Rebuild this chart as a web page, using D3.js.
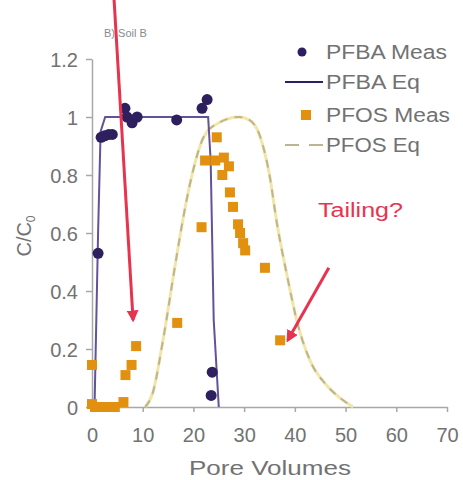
<!DOCTYPE html>
<html>
<head>
<meta charset="utf-8">
<script src="https://cdn.jsdelivr.net/npm/d3@7"></script>
<style>
  body { margin: 0; background: #fff; }
  svg { display: block; font-family: "Liberation Sans", Arial, sans-serif; }
</style>
</head>
<body>
<svg id="chart" width="463" height="480"></svg>
<script>
// PFBA measured (pore volumes, C/C0)
var pfbaMeas = [
  [1.2, 0.53], [1.8, 0.93], [2.5, 0.935], [3.3, 0.94], [4.0, 0.94],
  [6.5, 1.03], [6.9, 1.0], [7.9, 0.98], [8.9, 1.0], [16.7, 0.99],
  [21.7, 1.03], [22.7, 1.06], [23.7, 0.12], [23.5, 0.04]
];
// PFBA equilibrium model
var pfbaEq = [
  [0.5, 0], [1.2, 0.6], [1.7, 0.95], [2.6, 1], [22.9, 1],
  [23.4, 0.85], [24.0, 0.3], [25.0, 0]
];
// PFOS measured
var pfosMeas = [
  [0, 0.01], [0.6, 0], [1.5, 0], [2.5, 0], [3.5, 0], [4.5, 0], [6.2, 0.017],
  [0, 0.145], [6.6, 0.11], [7.8, 0.145], [8.7, 0.21], [16.8, 0.29],
  [21.6, 0.62], [22.3, 0.85], [24.3, 0.85], [24.6, 0.93], [26.0, 0.86],
  [25.7, 0.8], [27.0, 0.83], [27.2, 0.74], [27.8, 0.69], [28.8, 0.63],
  [29.2, 0.6], [29.8, 0.565], [30.2, 0.54], [34.1, 0.48], [37.1, 0.23]
];
// PFOS equilibrium model
var pfosEq = [
  [10.5, 0], [12, 0.05], [14, 0.23], [16.5, 0.5], [18.5, 0.7], [20, 0.82],
  [22, 0.93], [25, 0.98], [29, 1.0], [31, 0.99], [33, 0.94], [35, 0.8],
  [36.5, 0.63], [38.5, 0.45], [40.5, 0.29], [43, 0.16], [46, 0.08],
  [49, 0.03], [51.5, 0]
];
var xTicks = [0, 10, 20, 30, 40, 50, 60, 70];
var yTicks = [0, 0.2, 0.4, 0.6, 0.8, 1, 1.2];
var legendItems = ['PFBA Meas', 'PFBA Eq', 'PFOS Meas', 'PFOS Eq'];
// red arrows in data units: [x1, y1, x2, y2]
var arrows = [[4.3, 1.42, 8.1, 0.3], [46.7, 0.48, 38.6, 0.23]];

var svg = d3.select('#chart');
var x = d3.scaleLinear().domain([0, 70]).range([92, 447]);
var y = d3.scaleLinear().domain([0, 1.2]).range([407, 59]);

var axisColor = '#a8a8a8';
var textColor = '#727272';

// axes
var yAxis = svg.append('g')
  .attr('transform', 'translate(' + x(0) + ',0)')
  .call(d3.axisLeft(y).tickValues(yTicks).tickSize(6).tickSizeOuter(0)
    .tickFormat(function(d) { return d === 0 || d === 1 ? String(d) : d3.format('.1f')(d); }));
var xAxis = svg.append('g')
  .attr('transform', 'translate(0,' + y(0) + ')')
  .call(d3.axisBottom(x).tickValues(xTicks).tickSize(5).tickSizeOuter(0));

[yAxis, xAxis].forEach(function(g) {
  g.select('.domain').attr('stroke', axisColor).attr('stroke-width', 1.5);
  g.selectAll('.tick line').attr('stroke', axisColor).attr('stroke-width', 1.5);
  g.selectAll('.tick text')
    .attr('fill', textColor)
    .attr('font-size', 20)
    .attr('font-family', '"Liberation Sans", Arial, sans-serif');
});
yAxis.selectAll('.tick text').attr('x', -14).attr('dy', '0.35em');
xAxis.selectAll('.tick text').attr('y', 21).attr('dy', '0.71em');

// axis titles
svg.append('text')
  .attr('x', 270).attr('y', 475)
  .attr('text-anchor', 'middle')
  .attr('fill', textColor)
  .attr('font-size', 20)
  .attr('textLength', 162).attr('lengthAdjust', 'spacingAndGlyphs')
  .text('Pore Volumes');

var yTitle = svg.append('text')
  .attr('transform', 'translate(31,236) rotate(-90)')
  .attr('text-anchor', 'middle')
  .attr('fill', textColor)
  .attr('font-size', 20);
yTitle.append('tspan').text('C/C');
yTitle.append('tspan').attr('font-size', 12).attr('dy', 4).text('0');

// panel title
svg.append('text')
  .attr('x', 104).attr('y', 37)
  .attr('fill', '#8a8a8a')
  .attr('font-size', 11)
  .text('B) Soil B');

var line = d3.line()
  .x(function(d) { return x(d[0]); })
  .y(function(d) { return y(d[1]); });
var smooth = d3.line()
  .curve(d3.curveMonotoneX)
  .x(function(d) { return x(d[0]); })
  .y(function(d) { return y(d[1]); });

// PFOS eq: faint yellow line under grey-olive dashes
svg.append('path')
  .attr('d', smooth(pfosEq))
  .attr('fill', 'none')
  .attr('stroke', '#f3e4a8')
  .attr('stroke-width', 3);
svg.append('path')
  .attr('d', smooth(pfosEq))
  .attr('fill', 'none')
  .attr('stroke', '#bdb58e')
  .attr('stroke-width', 2)
  .attr('stroke-dasharray', '8,7');

// PFBA eq
svg.append('path')
  .attr('d', line(pfbaEq))
  .attr('fill', 'none')
  .attr('stroke', '#62529a')
  .attr('stroke-width', 2);

// PFOS meas
svg.append('g').selectAll('rect')
  .data(pfosMeas).enter().append('rect')
  .attr('x', function(d) { return x(d[0]) - 5; })
  .attr('y', function(d) { return y(d[1]) - 5; })
  .attr('width', 10).attr('height', 10)
  .attr('fill', '#e2900f');

// PFBA meas
svg.append('g').selectAll('circle')
  .data(pfbaMeas).enter().append('circle')
  .attr('cx', function(d) { return x(d[0]); })
  .attr('cy', function(d) { return y(d[1]); })
  .attr('r', 5.5)
  .attr('fill', '#2e1f5e');

// red arrows
var defs = svg.append('defs');
defs.append('marker')
  .attr('id', 'head')
  .attr('viewBox', '0 0 10 10')
  .attr('refX', 8).attr('refY', 5)
  .attr('markerWidth', 4).attr('markerHeight', 4)
  .attr('orient', 'auto')
  .append('path').attr('d', 'M0,0 L10,5 L0,10 Z').attr('fill', '#e8334f');
svg.append('g').selectAll('line')
  .data(arrows).enter().append('line')
  .attr('x1', function(d) { return x(d[0]); })
  .attr('y1', function(d) { return y(d[1]); })
  .attr('x2', function(d) { return x(d[2]); })
  .attr('y2', function(d) { return y(d[3]); })
  .attr('stroke', '#e8334f')
  .attr('stroke-width', 3)
  .attr('marker-end', 'url(#head)');

svg.append('text')
  .attr('x', 318).attr('y', 217)
  .attr('fill', '#e8334f')
  .attr('font-size', 20)
  .attr('textLength', 85).attr('lengthAdjust', 'spacingAndGlyphs')
  .text('Tailing?');

// legend
var legY = [52, 82, 115, 145];
var leg = svg.append('g');
leg.append('circle').attr('cx', 302).attr('cy', legY[0]).attr('r', 4.5).attr('fill', '#2e1f5e');
leg.append('line').attr('x1', 285).attr('x2', 323).attr('y1', legY[1]).attr('y2', legY[1])
  .attr('stroke', '#2e1f5e').attr('stroke-width', 2);
leg.append('rect').attr('x', 301).attr('y', legY[2] - 5).attr('width', 10).attr('height', 10).attr('fill', '#e2900f');
leg.append('line').attr('x1', 285).attr('x2', 323).attr('y1', legY[3]).attr('y2', legY[3])
  .attr('stroke', '#bdb58e').attr('stroke-width', 2).attr('stroke-dasharray', '14,10');
var legLen = [121, 94, 124, 94];
leg.selectAll('text.lab')
  .data(legendItems).enter().append('text')
  .attr('class', 'lab')
  .attr('x', 326)
  .attr('y', function(d, i) { return legY[i] + 7; })
  .attr('fill', textColor)
  .attr('font-size', 20)
  .attr('textLength', function(d, i) { return legLen[i]; })
  .attr('lengthAdjust', 'spacingAndGlyphs')
  .text(function(d) { return d; });
</script>
</body>
</html>
